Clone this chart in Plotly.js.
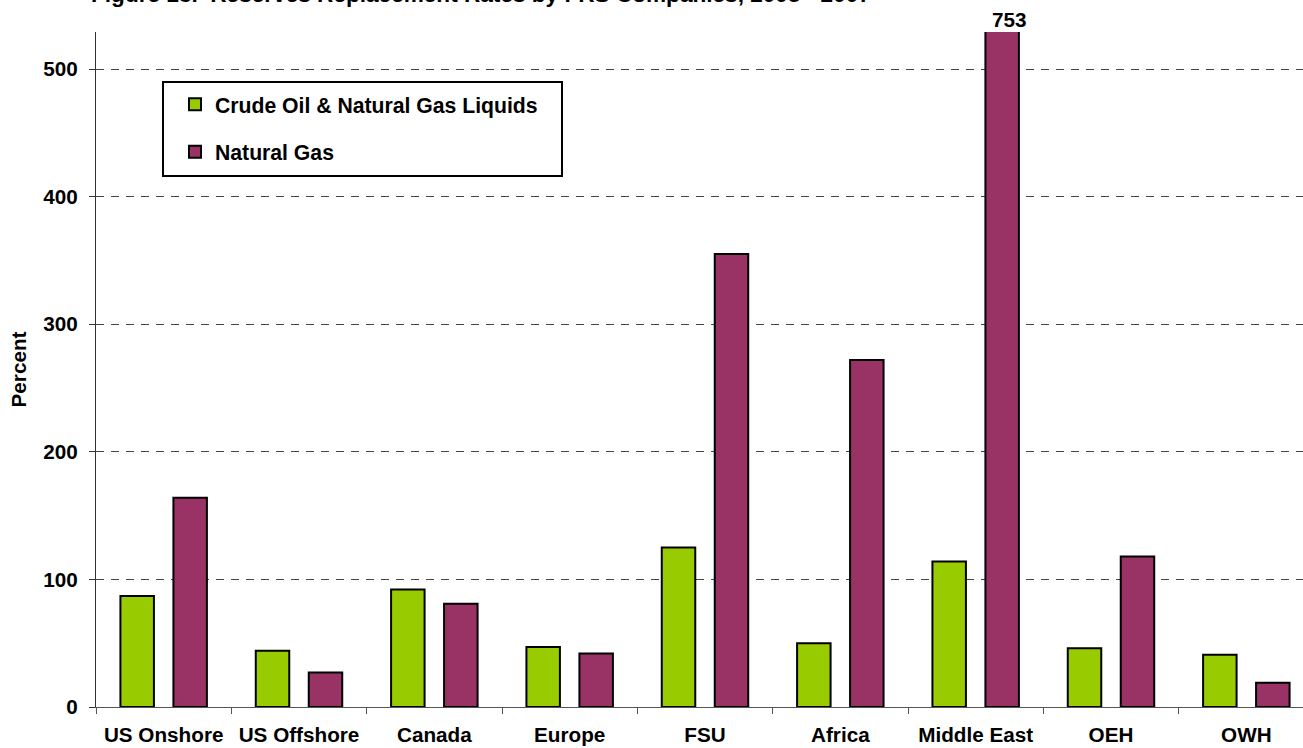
<!DOCTYPE html>
<html>
<head>
<meta charset="utf-8">
<script src="https://cdn.plot.ly/plotly-3.0.1.min.js"></script>
<style>
  html, body { margin: 0; padding: 0; overflow: hidden; background: #fff; }
  #chart { width: 1340px; height: 748px; }
</style>
</head>
<body>
<div id="chart"></div>
<script>
const categories = ['US Onshore', 'US Offshore', 'Canada', 'Europe', 'FSU', 'Africa', 'Middle East', 'OEH', 'OWH'];
const crudeOil = [87, 44, 92, 47, 125, 50, 114, 46, 41];
const naturalGas = [164, 27, 81, 42, 355, 272, 753, 118, 19];
const seriesNames = ['Crude Oil & Natural Gas Liquids', 'Natural Gas'];
const titleText = 'Figure 13.  Reserves Replacement Rates by FRS Companies, 2005 - 2007';
const yTitle = 'Percent';

const FONT = 'Liberation Sans, Arial, Helvetica, sans-serif';
const FS = 20.7;
const yMax = 529;

const traces = [
  {
    type: 'bar', name: seriesNames[0], x: categories, y: crudeOil,
    marker: { color: '#99CC00', line: { color: '#000', width: 2 } },
    legendgroup: 'a', hoverinfo: 'x+y'
  },
  {
    type: 'bar', name: seriesNames[1], x: categories, y: naturalGas,
    marker: { color: '#993366', line: { color: '#000', width: 2 } },
    legendgroup: 'b', hoverinfo: 'x+y'
  }
];

// label for clipped bar(s)
const annotations = [];
naturalGas.forEach((v, i) => {
  if (v > yMax) {
    annotations.push({
      xref: 'x', yref: 'paper', x: categories[i], y: 1,
      xanchor: 'center', yanchor: 'bottom', xshift: 34, yshift: -1,
      text: String(v), showarrow: false,
      font: { family: FONT, size: FS, color: '#000', weight: 'bold' }
    });
  }
});
annotations.push({
  xref: 'paper', yref: 'paper', x: -0.006, y: 1,
  xanchor: 'left', yanchor: 'bottom', yshift: 23,
  text: titleText, showarrow: false,
  font: { family: FONT, size: 22.6, color: '#000', weight: 'bold' }
});

// legend frame (wider than plotly's auto-sized legend box, as in the reference)
const shapes = [{
  type: 'rect', xref: 'paper', yref: 'paper',
  x0: 0.055, x1: 0.3826, y0: 0.7867, y1: 0.9259,
  line: { color: '#000', width: 2 }, fillcolor: '#fff', layer: 'above'
}];

const layout = {
  width: 1340, height: 748,
  margin: { l: 96, r: 26, t: 32, b: 41, pad: 0 },
  paper_bgcolor: '#fff', plot_bgcolor: '#fff',
  barmode: 'group', bargap: 0.217, bargroupgap: 0.368,
  font: { family: FONT, size: FS, color: '#000', weight: 'bold' },
  showlegend: true,
  legend: {
    x: 0.055, y: 0.926, xanchor: 'left', yanchor: 'top',
    bgcolor: 'rgba(0,0,0,0)', bordercolor: 'rgba(0,0,0,0)', borderwidth: 2,
    traceorder: 'grouped', tracegroupgap: 17,
    font: { family: FONT, size: 21.2, color: '#000', weight: 'bold' },
    itemwidth: 30, indentation: 10
  },
  xaxis: {
    type: 'category', showline: true, linecolor: '#555', linewidth: 1,
    ticks: 'outside', tickson: 'boundaries', ticklen: 6, tickcolor: '#555',
    showgrid: false, zeroline: false, ticklabelstandoff: 9,
    tickfont: { family: FONT, size: FS, color: '#000', weight: 'bold' },
    fixedrange: true
  },
  yaxis: {
    range: [0, yMax], tickvals: [0, 100, 200, 300, 400, 500],
    showline: true, linecolor: '#333', linewidth: 1,
    ticks: 'outside', ticklen: 6, tickcolor: '#333',
    showgrid: true, gridcolor: '#444', gridwidth: 1, griddash: '8px,7px',
    zeroline: false, ticklabelstandoff: 7,
    tickfont: { family: FONT, size: FS, color: '#000', weight: 'bold' },
    title: { text: yTitle, standoff: 11, font: { family: FONT, size: FS, color: '#000', weight: 'bold' } },
    fixedrange: true
  },
  shapes: shapes,
  annotations: annotations
};

Plotly.newPlot('chart', traces, layout, { displayModeBar: false, staticPlot: false });
</script>
</body>
</html>
